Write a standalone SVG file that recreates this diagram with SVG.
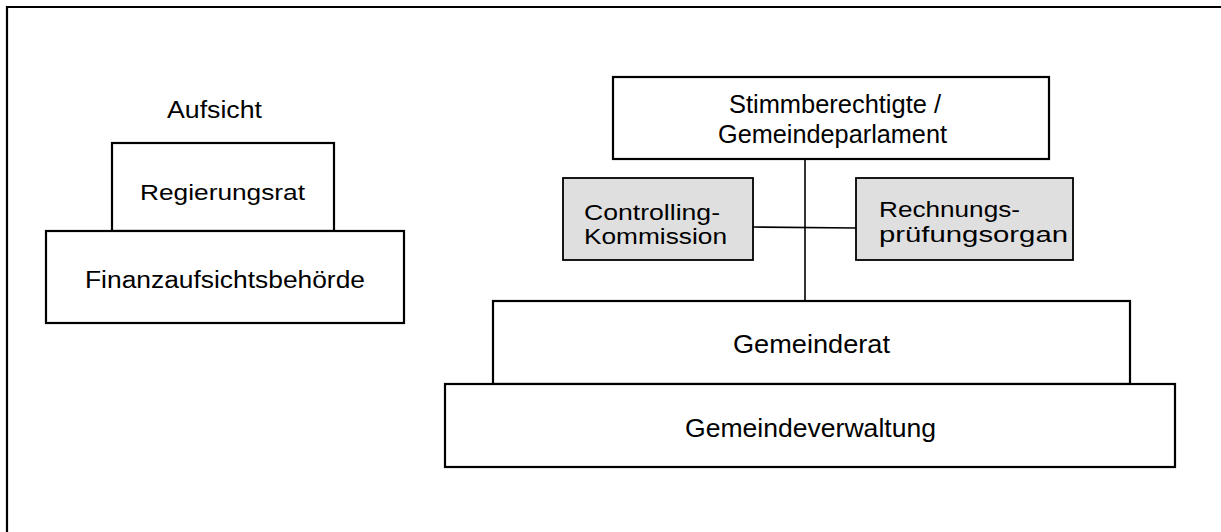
<svg xmlns="http://www.w3.org/2000/svg" width="1221" height="532" viewBox="0 0 1221 532">
<style>
.box{fill:#ffffff;stroke:#000000;stroke-width:2.2}
.grey{fill:#dfdfdf;stroke:#000000;stroke-width:1.8}
.t{font-family:"Liberation Sans",Arial,sans-serif;fill:#000000}
.con{stroke:#000000;stroke-width:1.6;fill:none}
</style>
<rect x="0" y="0" width="1221" height="532" fill="#ffffff"/>
<path d="M7,532 V7 H1221" fill="none" stroke="#000" stroke-width="2.2"/>
<text class="t" x="167" y="118" font-size="23" textLength="95" lengthAdjust="spacingAndGlyphs">Aufsicht</text>
<g id="regierungsrat">
<rect class="box" x="112" y="143" width="222" height="88"/>
<text class="t" x="140" y="200" font-size="22" textLength="165" lengthAdjust="spacingAndGlyphs">Regierungsrat</text>
</g>
<g id="finanzaufsicht">
<rect class="box" x="46" y="231" width="358" height="92"/>
<text class="t" x="85" y="288" font-size="23" textLength="280" lengthAdjust="spacingAndGlyphs">Finanzaufsichtsbehörde</text>
</g>
<g id="connectors">
<line class="con" x1="805" y1="159" x2="805" y2="301"/>
<line class="con" x1="753" y1="227" x2="856" y2="228"/>
</g>
<g id="stimmberechtigte">
<rect class="box" x="613" y="77" width="436" height="82"/>
<text class="t" x="729" y="113" font-size="25" textLength="212" lengthAdjust="spacingAndGlyphs">Stimmberechtigte /</text>
<text class="t" x="718" y="143" font-size="25" textLength="229" lengthAdjust="spacingAndGlyphs">Gemeindeparlament</text>
</g>
<g id="controlling">
<rect class="grey" x="563" y="178" width="190" height="82"/>
<text class="t" x="584" y="220" font-size="22" textLength="136" lengthAdjust="spacingAndGlyphs">Controlling-</text>
<text class="t" x="584" y="244" font-size="22" textLength="143" lengthAdjust="spacingAndGlyphs">Kommission</text>
</g>
<g id="rechnungspruefung">
<rect class="grey" x="856" y="178" width="217" height="82"/>
<text class="t" x="879" y="217" font-size="22" textLength="141" lengthAdjust="spacingAndGlyphs">Rechnungs-</text>
<text class="t" x="879" y="242" font-size="22" textLength="189" lengthAdjust="spacingAndGlyphs">prüfungsorgan</text>
</g>
<g id="gemeinderat">
<rect class="box" x="493" y="301" width="637" height="83"/>
<text class="t" x="733" y="353" font-size="26" textLength="157" lengthAdjust="spacingAndGlyphs">Gemeinderat</text>
</g>
<g id="gemeindeverwaltung">
<rect class="box" x="445" y="384" width="730" height="83"/>
<text class="t" x="685" y="437" font-size="26" textLength="251" lengthAdjust="spacingAndGlyphs">Gemeindeverwaltung</text>
</g>
</svg>
